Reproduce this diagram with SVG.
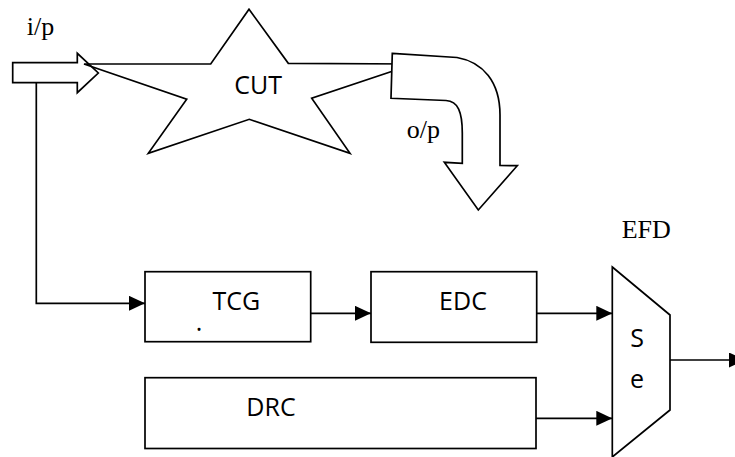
<svg xmlns="http://www.w3.org/2000/svg" width="735" height="457" viewBox="0 0 735 457">
<style>
.ln{fill:none;stroke:#000;stroke-width:1.7;stroke-linejoin:miter}
.shp{fill:#fff;stroke:#000;stroke-width:1.7;stroke-linejoin:miter}
.sans{font-family:"Open Sans","Liberation Sans",sans-serif;font-size:25px;fill:#000}
.serif{font-family:"Liberation Serif","Times New Roman",serif;font-size:26px;fill:#000}
</style>
<defs>
<marker id="ah" markerUnits="userSpaceOnUse" markerWidth="16" markerHeight="16" refX="16" refY="7.5" orient="auto">
<polygon points="0,0 16,7.5 0,15" fill="#000"/>
</marker>
</defs>
<rect width="735" height="457" fill="#fff"/>

<g id="input">
<polygon class="shp" points="12.7,62.7 77.3,62.7 77.3,53.3 98.3,73 77.3,92.7 77.3,82.7 12.7,82.7"/>
<text class="serif" x="26.7" y="35">i/p</text>
</g>

<g id="cut">
<polygon class="ln" points="84,64 210.7,64 249,9.3 288.3,63.3 414,64 311.7,98.3 350,153.3 249.3,119.3 148.3,153.3 186.7,99.3"/>
<text class="sans" x="258.2" y="94" text-anchor="middle">CUT</text>
</g>

<g id="output">
<path class="shp" d="M392.3,53.3 L457,57.5 C483,62 500,82 500,115 L500,165.5 L517.3,165.7 L478.3,210 L444.3,162.3 L462.3,163.3 L462.3,133 C462.3,112 458,101 446,100.5 L391,98.3 Z"/>
<text class="serif" x="406.7" y="138.3">o/p</text>
</g>

<g id="tcg">
<rect class="shp" x="145" y="271.7" width="165.7" height="70"/>
<text class="sans" x="236.3" y="310" text-anchor="middle">TCG</text>
<text class="sans" x="199" y="331" font-size="8" text-anchor="middle">.</text>
</g>

<g id="edc">
<rect class="shp" x="371" y="271.7" width="165.7" height="70.6"/>
<text class="sans" x="463" y="310" text-anchor="middle">EDC</text>
</g>

<g id="drc">
<rect class="shp" x="145" y="377.7" width="391" height="70.8"/>
<text class="sans" x="271" y="416" text-anchor="middle">DRC</text>
</g>

<g id="efd">
<polygon class="shp" points="612.3,267 670,315 670,410 612.3,457"/>
<text class="sans" x="637" y="347" font-size="22" text-anchor="middle">S</text>
<text class="sans" x="637" y="388" font-size="22" text-anchor="middle">e</text>
<text class="serif" x="621.7" y="238.3">EFD</text>
</g>

<g id="connectors">
<polyline class="ln" points="36.3,82.7 36.3,303.3 145,303.3" marker-end="url(#ah)"/>
<line class="ln" x1="310.7" y1="313.3" x2="371" y2="313.3" marker-end="url(#ah)"/>
<line class="ln" x1="536.7" y1="313.3" x2="612.3" y2="313.3" marker-end="url(#ah)"/>
<line class="ln" x1="536" y1="418.3" x2="612.3" y2="418.3" marker-end="url(#ah)"/>
<line class="ln" x1="670" y1="360" x2="745" y2="360" marker-end="url(#ah)"/>
</g>
</svg>
